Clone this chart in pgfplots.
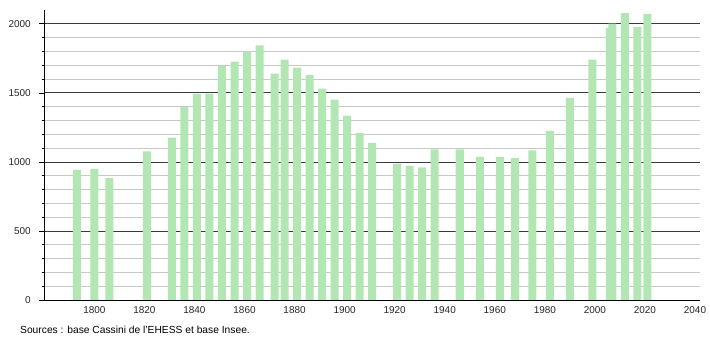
\documentclass[border=0pt]{standalone}
\usepackage{fontspec}
\setmainfont{Liberation Sans}
\usepackage{pgfplots}
\pgfplotsset{compat=1.18}
\definecolor{barg}{HTML}{B2E6B2}
\definecolor{majg}{HTML}{3A3A3A}
\definecolor{ming}{HTML}{C8C8C8}
\begin{document}
\begin{tikzpicture}
\path[use as bounding box] (0bp,0bp) rectangle (710bp,340bp);
\begin{axis}[
  at={(44.3bp,40bp)}, anchor=south west,
  scale only axis, width=655.7bp, height=290bp,
  xmin=1780, xmax=2042, ymin=0, ymax=2100,
  axis lines*=left,
  axis line style={black, line width=0.8bp},
  xtick={1800,1820,...,2040},
  ytick={0,500,...,2000},
  minor y tick num=4,
  ymajorgrids, yminorgrids,
  major grid style={majg, line width=0.8bp},
  minor grid style={ming, line width=0.8bp},
  tick align=outside,
  major tick length=5bp, minor tick length=2.7bp,
  x tick style={draw=none},
  y tick style={black, line width=0.7bp},
  /pgf/number format/assume math mode=true,
  /pgf/number format/1000 sep={},
  tick label style={font=\fontsize{10}{12}\selectfont, text=black!85},
  yticklabel style={xshift=-5bp},
  xticklabel style={yshift=2bp},
]
\addplot[ybar, bar width=3.2, fill=barg, draw=none] coordinates {
(1793,943) (1800,950) (1806,883) (1821,1076) (1831,1175) (1836,1398)
(1841,1492) (1846,1494) (1851,1693) (1856,1727) (1861,1801) (1866,1843)
(1872,1640) (1876,1741) (1881,1683) (1886,1630) (1891,1531) (1896,1451)
(1901,1335) (1906,1211) (1911,1137) (1921,987) (1926,972) (1931,960)
(1936,1090) (1946,1090) (1954,1037) (1962,1037) (1968,1028) (1975,1083)
(1982,1224) (1990,1463) (1999,1741) (2006,1969) (2007,2001) (2012,2077)
(2017,1978) (2021,2072)
};
\end{axis}
\node[anchor=west, inner sep=0pt, font=\fontsize{10.3}{12}\selectfont] at (20bp,10.5bp) {Sources : base Cassini de l'EHESS et base Insee.};
\end{tikzpicture}
\end{document}
